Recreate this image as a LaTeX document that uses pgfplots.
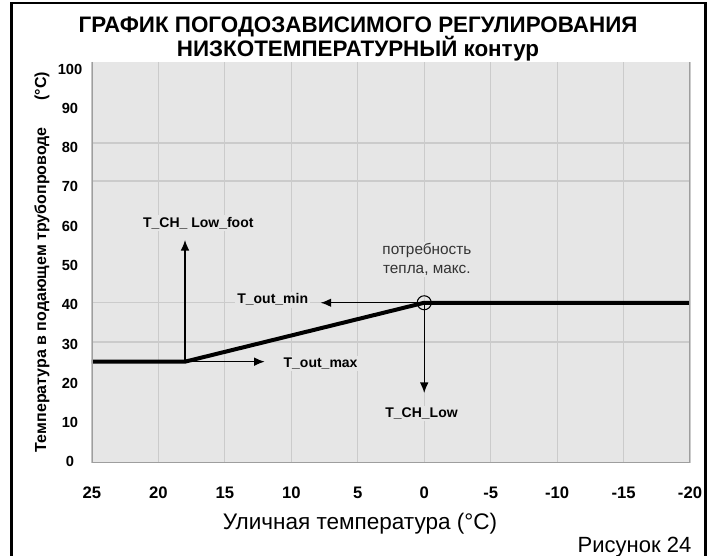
\documentclass[border=0pt]{standalone}
\usepackage{fontspec}
\setmainfont{Liberation Sans}
\usepackage{pgfplots}
\pgfplotsset{compat=1.18}
\usetikzlibrary{arrows.meta}
\definecolor{bggray}{HTML}{E6E6E6}
\definecolor{gridgray}{HTML}{CBCBCB}
\definecolor{axgray}{HTML}{9E9E9E}
\begin{document}
\begin{tikzpicture}[x=0.75pt,y=0.75pt]
\path[use as bounding box] (0,0) rectangle (713,556);
\draw[line width=1.6pt] (11.5,0) -- (11.5,553) -- (705.5,553) -- (705.5,0);
\node[anchor=base, font=\bfseries\fontsize{16.8}{18}\selectfont] at (358,523.5) {ГРАФИК ПОГОДОЗАВИСИМОГО РЕГУЛИРОВАНИЯ};
\node[anchor=base, font=\bfseries\fontsize{16.8}{18}\selectfont] at (358,499) {НИЗКОТЕМПЕРАТУРНЫЙ контур};
\node[rotate=90, font=\bfseries\fontsize{12}{13}\selectfont] at (42,294) {Температура в подающем трубопроводе\hspace{20pt}(°C)};
\node[anchor=base, font=\fontsize{16.9}{18}\selectfont] at (360,26) {Уличная температура (°C)};
\node[anchor=base east, font=\fontsize{16.5}{18}\selectfont] at (696,3) {Рисунок 24};
\begin{axis}[
  at={(69pt,69.75pt)}, anchor=south west,
  scale only axis, width=448.5pt, height=300.75pt,
  xmin=-20, xmax=25, x dir=reverse,
  ymin=-0.8, ymax=101.3,
  xtick={-20,-15,...,25}, ytick={0,10,...,100},
  axis background/.style={fill=bggray},
  axis line style={draw=none},
  tick style={draw=none},
  xmajorgrids, ymajorgrids=false,
  major grid style={gridgray, line width=0.9pt},
  extra y ticks={30,40,71,80.7}, extra y tick labels={},
  extra y tick style={grid=major, major grid style={gridgray, line width=0.9pt}},
  /pgf/number format/assume math mode=true,
  xticklabel style={anchor=center, yshift=-22.5pt, font=\bfseries\fontsize{12.5}{14}\selectfont},
  yticklabel style={anchor=center, xshift=-16.5pt, yshift=-1.5pt, font=\bfseries\fontsize{11}{13}\selectfont},
]
\addplot[black, line width=3pt] coordinates {(25,25) (18,25) (0,40) (-20,40)};
\addplot[only marks, mark=o, mark size=5.25pt, mark options={line width=0.8pt, black}] coordinates {(0,40)};
\draw[-{Latex[length=8pt,width=6.5pt]}, line width=1pt] (axis cs:18,25) -- (axis cs:18,56);
\draw[-{Latex[length=8pt,width=6.5pt]}, line width=1pt] (axis cs:18,25) -- (axis cs:12,25);
\draw[-{Latex[length=8pt,width=6.5pt]}, line width=1pt] (axis cs:0,40) -- (axis cs:7.8,40);
\draw[-{Latex[length=8pt,width=6.5pt]}, line width=1pt] (axis cs:0,40) -- (axis cs:0,17);
\node[fill=bggray, inner sep=1.5pt, font=\bfseries\fontsize{10.5}{12}\selectfont] at (axis cs:17,60.3) {T\_CH\_ Low\_foot};
\node[fill=bggray, inner sep=1.5pt, font=\bfseries\fontsize{10.5}{12}\selectfont] at (axis cs:11.4,40.8) {T\_out\_min};
\node[fill=bggray, inner sep=1.5pt, font=\bfseries\fontsize{10.5}{12}\selectfont] at (axis cs:7.8,24.6) {T\_out\_max};
\node[fill=bggray, inner sep=1.5pt, font=\bfseries\fontsize{10.5}{12}\selectfont] at (axis cs:0.2,11.8) {T\_CH\_Low};
\node[fill=bggray, inner sep=1pt, align=center, text=black!80, font=\fontsize{11.5}{14}\selectfont] at (axis cs:-0.2,51) {потребность\\тепла, макс.};
\draw[axgray, line width=1.6pt] (rel axis cs:0,1) -- (rel axis cs:0,0) -- (rel axis cs:1,0) -- (rel axis cs:1,1);
\end{axis}
\end{tikzpicture}
\end{document}
